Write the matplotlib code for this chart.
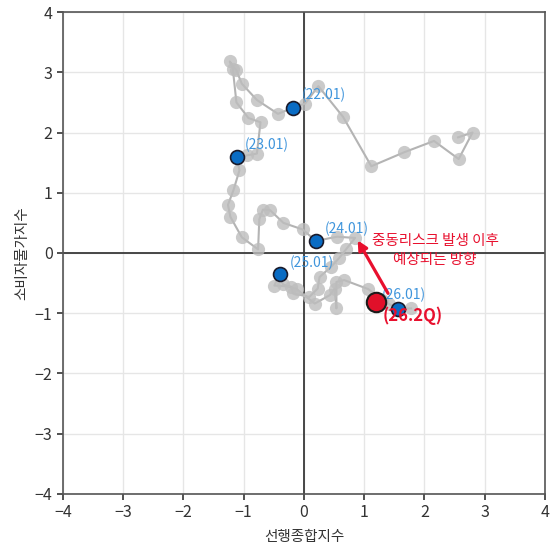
import numpy as np
import matplotlib
matplotlib.use("Agg")
import matplotlib.pyplot as plt

plt.rcParams['font.family'] = ['Noto Sans CJK KR', 'DejaVu Sans']
plt.rcParams['axes.unicode_minus'] = True

# monthly path (선행종합지수, 소비자물가지수)
lead_x = [2.56, 2.80, 2.57, 2.16, 1.66, 1.12, 0.65, 0.24, 0.02,
          -0.18,
          -0.43, -0.78, -1.03, -1.12, -1.23, -1.18, -1.12, -0.92, -0.72, -0.78, -0.95,
          -1.11,
          -1.07, -1.17, -1.26, -1.22, -1.03, -0.76, -0.74, -0.68, -0.56, -0.34, -0.02,
          0.20,
          0.55, 0.85, 0.70, 0.58, 0.45, 0.26, 0.23, 0.09, -0.18, -0.21, -0.49,
          -0.40,
          -0.35, -0.12, 0.18, 0.43, 0.51, 0.54, 0.54, 0.67, 1.07, 1.30, 1.42,
          1.57, 1.78]
cpi_y = [1.92, 2.00, 1.56, 1.86, 1.67, 1.44, 2.26, 2.77, 2.48,
         2.41,
         2.31, 2.54, 2.81, 3.03, 3.18, 3.06, 2.50, 2.24, 2.17, 1.65, 1.62,
         1.59,
         1.37, 1.04, 0.80, 0.60, 0.26, 0.06, 0.56, 0.72, 0.71, 0.50, 0.39,
         0.20,
         0.27, 0.25, 0.06, -0.09, -0.23, -0.40, -0.59, -0.73, -0.67, -0.56, -0.54,
         -0.35,
         -0.52, -0.60, -0.84, -0.70, -0.59, -0.92, -0.48, -0.45, -0.60, -0.78, -0.85,
         -0.93, -0.92]

# January points highlighted
jan_labels = ['(22.01)', '(23.01)', '(24.01)', '(25.01)', '(26.01)']
jan_x = [-0.18, -1.11, 0.20, -0.40, 1.57]
jan_y = [2.41, 1.59, 0.20, -0.35, -0.93]
jan_text_x = [-0.03, -0.98, 0.35, -0.23, 1.30]
jan_text_y = [2.62, 1.79, 0.40, -0.16, -0.69]

# forecast point
fc_label = '(26.2Q)'
fc_x, fc_y = 1.19, -0.81

fig = plt.figure(figsize=(5.52, 5.47), dpi=100)
ax = fig.add_axes([0.114, 0.097, 0.873, 0.881])

ax.set_xlim(-4, 4)
ax.set_ylim(-4, 4)
ax.set_xticks(range(-4, 5))
ax.set_yticks(range(-4, 5))
ax.grid(True, color='#e6e6e6', linewidth=1.0)
ax.set_axisbelow(True)
ax.axhline(0, color='#3a3a3a', linewidth=1.3, zorder=1)
ax.axvline(0, color='#3a3a3a', linewidth=1.3, zorder=1)

for s in ax.spines.values():
    s.set_color('#555555')
    s.set_linewidth(1.2)
ax.tick_params(axis='both', labelsize=11.5, colors='#333333', length=4, width=1.2)

ax.plot(lead_x, cpi_y, '-', color='#b4b4b4', linewidth=1.5, zorder=2)
ax.plot(lead_x, cpi_y, 'o', color='#bdbdbd', markersize=9.5, alpha=0.8,
        markeredgewidth=0, zorder=3)

ax.plot(jan_x, jan_y, 'o', color='#0a6cc4', markersize=10,
        markeredgecolor='#1a1a2a', markeredgewidth=1.2, zorder=5)
for lab, tx, ty in zip(jan_labels, jan_text_x, jan_text_y):
    ax.text(tx, ty, lab, color='#3f95dc', fontsize=10, ha='left', va='center', zorder=6)

ax.plot([fc_x], [fc_y], 'o', color='#e0102a', markersize=14,
        markeredgecolor='#1a1a1a', markeredgewidth=1.5, zorder=6)
ax.text(1.80, -1.04, fc_label, color='#e8102e', fontsize=12, fontweight='bold',
        ha='center', va='center', zorder=7)

ax.annotate('', xy=(0.87, 0.25), xytext=(1.42, -0.71),
            arrowprops=dict(arrowstyle='-|>', color='#e8102e', lw=2.3,
                            mutation_scale=14), zorder=7)
ax.text(2.18, 0.04, '중동리스크 발생 이후\n예상되는 방향', color='#e8102e',
        fontsize=10.5, ha='center', va='center', linespacing=1.4, zorder=7)

ax.set_xlabel('선행종합지수', fontsize=10.5, color='#333333', labelpad=6)
ax.set_ylabel('소비자물가지수', fontsize=10.5, color='#333333', labelpad=4)

fig.savefig('out.png', dpi=100)
